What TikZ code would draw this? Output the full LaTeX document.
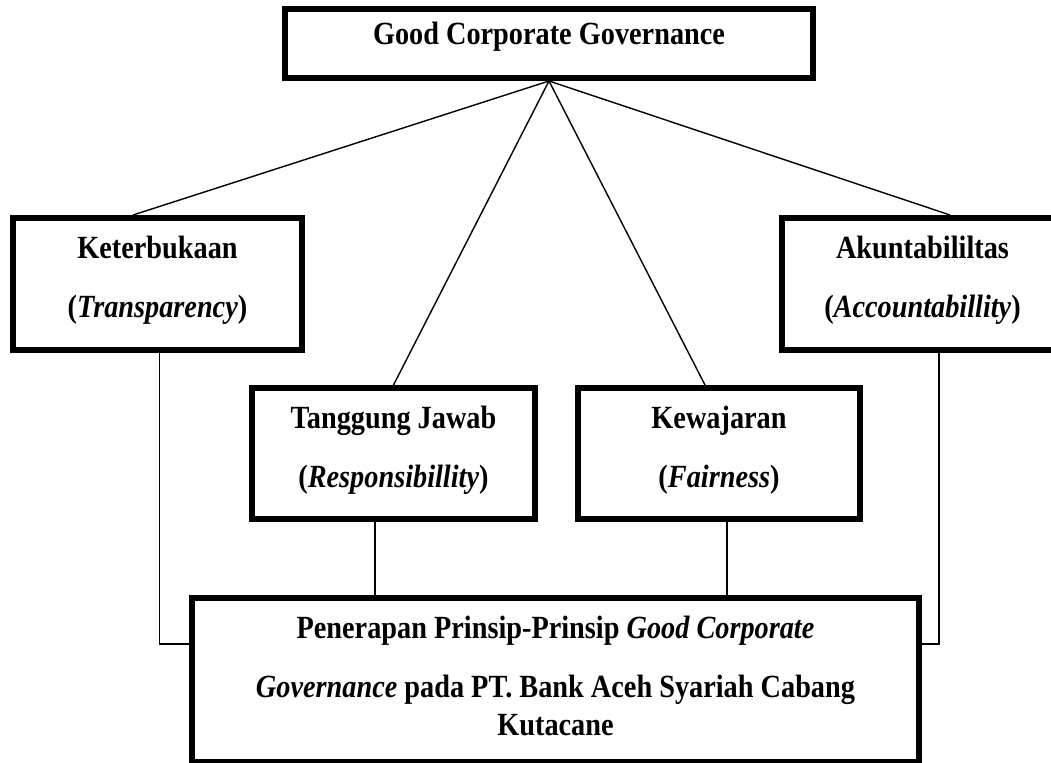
\documentclass[tikz,border=0pt]{standalone}
\usepackage{fontspec}
\setmainfont{Liberation Serif}[FakeStretch=0.875]
\usepackage{tikz}

\begin{document}
\begin{tikzpicture}[x=0.02cm, y=-0.02cm,
	box/.style={draw, line width=0.12cm, inner sep=0pt},
	txt/.style={font=\fontsize{18.4}{21.6}\selectfont\bfseries, align=center, inner sep=0pt, anchor=base},
	link/.style={line width=0.8pt}]
	\useasboundingbox (0,0) rectangle (1051,763);
	% boxes
	\node[box, minimum width=10.56cm, minimum height=1.38cm] (gcg) at (549,43.5) {};
	\node[box, minimum width=5.78cm, minimum height=2.64cm] (ket) at (157.5,284) {};
	\node[box, minimum width=5.62cm, minimum height=2.64cm] (akun) at (922.5,284) {};
	\node[box, minimum width=5.66cm, minimum height=2.63cm] (tj) at (393.5,453.75) {};
	\node[box, minimum width=5.64cm, minimum height=2.63cm] (kew) at (719,453.75) {};
	\node[box, minimum width=14.54cm, minimum height=3.28cm] (base) at (555.5,680) {};
	% texts (base = last line)
	\node[txt] (gcgT) at (549,45) {Good Corporate Governance};
	\node[txt] (ketT) at (157.5,317) {Keterbukaan\\[0.42cm](\textit{Transparency})};
	\node[txt] (akunT) at (922.5,317) {Akuntabililtas\\[0.42cm](\textit{Accountabillity})};
	\node[txt] (tjT) at (393.5,487) {Tanggung Jawab\\[0.42cm](\textit{Responsibillity})};
	\node[txt] (kewT) at (719,487) {Kewajaran\\[0.42cm](\textit{Fairness})};
	\node[txt] (baseT) at (555.5,735) {Penerapan Prinsip-Prinsip \textit{Good Corporate}\\[0.42cm]\textit{Governance} pada PT. Bank Aceh Syariah Cabang\\Kutacane};
	% lines from the top
	\draw[link] (gcg.south) -- ([xshift=-0.49cm]ket.north);
	\draw[link] (gcg.south) -- (tj.north);
	\draw[link] (gcg.south) -- ([xshift=-0.28cm]kew.north);
	\draw[link] (gcg.south) -- ([xshift=0.55cm]akun.north);
	% lines to the bottom
	\draw[link] ([xshift=0.04cm]ket.south) |- ([yshift=0.72cm]base.west);
	\draw[link] ([xshift=0.33cm]akun.south) |- ([yshift=0.72cm]base.east);
	\draw[link] ([xshift=-0.37cm]tj.south) -- ([xshift=-0.37cm]tj.south |- base.north);
	\draw[link] ([xshift=0.16cm]kew.south) -- ([xshift=0.16cm]kew.south |- base.north);
\end{tikzpicture}
\end{document}
